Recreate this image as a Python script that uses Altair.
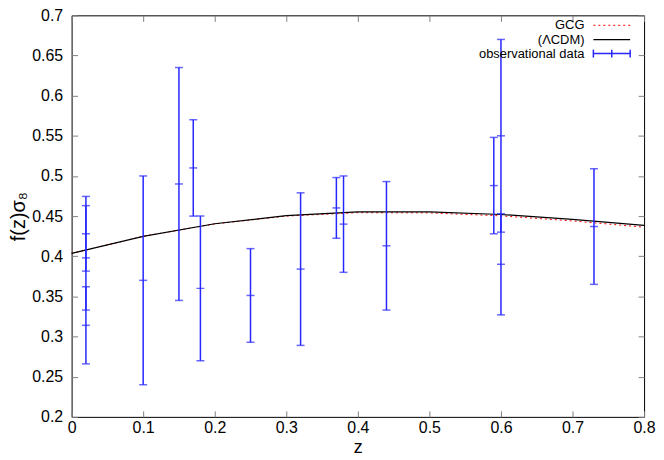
import altair as alt
import pandas as pd

# ---- data ----
z_model = [0.0, 0.1, 0.2, 0.3, 0.4, 0.5, 0.6, 0.7, 0.8]
lcdm_vals = [0.4035, 0.4248, 0.4405, 0.4505, 0.4553, 0.4553, 0.4520, 0.4460, 0.4385]
gcg_vals = [0.4035, 0.4248, 0.4403, 0.4500, 0.4543, 0.4540, 0.4503, 0.4440, 0.4362]

z_obs = [0.02, 0.02, 0.02, 0.10, 0.15, 0.17, 0.18, 0.25, 0.32, 0.37, 0.38, 0.44, 0.59, 0.60, 0.60, 0.73]
fs8_obs = [0.428, 0.398, 0.314, 0.370, 0.490, 0.510, 0.360, 0.3512, 0.384, 0.4602, 0.440, 0.413, 0.488, 0.390, 0.550, 0.437]
err_obs = [0.0465, 0.065, 0.048, 0.130, 0.145, 0.060, 0.090, 0.0583, 0.095, 0.0378, 0.060, 0.080, 0.060, 0.063, 0.120, 0.072]

x_ticks = [0, 0.1, 0.2, 0.3, 0.4, 0.5, 0.6, 0.7, 0.8]
y_ticks = [0.2, 0.25, 0.3, 0.35, 0.4, 0.45, 0.5, 0.55, 0.6, 0.65, 0.7]
legend_labels = ["GCG", "(\u039bCDM)", "observational data"]

model_df = pd.DataFrame({"z": z_model, "lcdm": lcdm_vals, "gcg": gcg_vals})
obs_df = pd.DataFrame({"z": z_obs, "fs8": fs8_obs, "err": err_obs})
obs_df["lo"] = obs_df["fs8"] - obs_df["err"]
obs_df["hi"] = obs_df["fs8"] + obs_df["err"]

# ---- layout ----
W, H = 576, 404
FONT = "Liberation Sans"
BLUE = "#2626ff"

xs = alt.Scale(domain=[0, 0.8], nice=False, zero=False)
ys = alt.Scale(domain=[0.2, 0.7], nice=False, zero=False)

main_x_axis = alt.Axis(
    orient="bottom", values=x_ticks, format="~g", ticks=False, tickSize=0,
    domain=False, grid=False, labelFont=FONT, labelFontSize=16, labelColor="black",
    labelPadding=3, labelFlush=False, labelOverlap=False,
    title="z", titleFont=FONT, titleFontSize=18, titleFontWeight="normal",
    titleColor="black", titleX=W / 2, titleY=31, titleBaseline="middle", titleAlign="center",
)
main_y_axis = alt.Axis(
    orient="left", values=y_ticks, format="~g", ticks=False, tickSize=0,
    domain=False, grid=False, labelFont=FONT, labelFontSize=16, labelColor="black",
    labelPadding=9, labelFlush=False, labelOverlap=False,
    title="f(z)\u03c3\u2088", titleFont=FONT, titleFontSize=20, titleFontWeight="normal",
    titleColor="black", titleX=-53, titleY=H / 2, titleAngle=270,
    titleBaseline="middle", titleAlign="center",
)


def tick_axis(orient, offset, values):
    return alt.Axis(
        orient=orient, offset=offset, values=values, ticks=True, tickSize=6,
        tickColor="#808080", tickWidth=1, labels=False, domain=False, grid=False, title=None,
    )


gcg_line = alt.Chart(model_df).mark_line(color="red", strokeDash=[2, 3], strokeWidth=1).encode(
    x=alt.X("z:Q", scale=xs, axis=main_x_axis),
    y=alt.Y("gcg:Q", scale=ys, axis=main_y_axis),
)
lcdm_line = alt.Chart(model_df).mark_line(color="black", strokeWidth=1.2).encode(
    x=alt.X("z:Q", scale=xs, axis=tick_axis("top", -H, x_ticks)),
    y=alt.Y("lcdm:Q", scale=ys, axis=tick_axis("right", -W, y_ticks)),
)
bars = alt.Chart(obs_df).mark_rule(color=BLUE, strokeWidth=1.5).encode(
    x=alt.X("z:Q", scale=xs, axis=tick_axis("bottom", -H, x_ticks)),
    y=alt.Y("lo:Q", scale=ys, axis=tick_axis("left", -W, y_ticks)),
    y2="hi:Q",
)
caps = alt.Chart(obs_df).transform_fold(["lo", "fs8", "hi"], as_=["kind", "v"]).mark_tick(
    orient="horizontal", size=8, thickness=1.5, color=BLUE
).encode(
    x=alt.X("z:Q", scale=xs, axis=None),
    y=alt.Y("v:Q", scale=ys, axis=None),
)

# ---- legend (gnuplot style: text right, sample on the right) ----
one = pd.DataFrame({"k": [0]})
TX, S0, S1 = 516, 525, 562
rows = [10, 24.5, 38.5]


def leg_text(label, yy):
    return alt.Chart(one).mark_text(
        align="right", baseline="middle", font=FONT, fontSize=13, color="black"
    ).encode(x=alt.value(TX), y=alt.value(yy), text=alt.value(label))


leg = [leg_text(legend_labels[i], rows[i]) for i in range(3)]
leg.append(alt.Chart(one).mark_rule(color="red", strokeDash=[2, 3], strokeWidth=1).encode(
    x=alt.value(S0), x2=alt.value(S1), y=alt.value(rows[0])))
leg.append(alt.Chart(one).mark_rule(color="black", strokeWidth=1.2).encode(
    x=alt.value(S0), x2=alt.value(S1), y=alt.value(rows[1])))
leg.append(alt.Chart(one).mark_rule(color=BLUE, strokeWidth=1.5).encode(
    x=alt.value(S0), x2=alt.value(S1), y=alt.value(rows[2])))
for xx in [S0, (S0 + S1) / 2, S1]:
    leg.append(alt.Chart(one).mark_rule(color=BLUE, strokeWidth=1.5).encode(
        x=alt.value(xx), y=alt.value(rows[2] - 4), y2=alt.value(rows[2] + 4)))

chart = alt.layer(gcg_line, lcdm_line, bars, caps, *leg).resolve_axis(
    x="independent", y="independent"
).properties(
    width=W, height=H,
    padding={"left": 64, "top": 6, "right": 12, "bottom": 40},
    autosize=alt.AutoSizeParams(type="none"),
    background="white",
).configure_view(stroke="black", strokeWidth=1)

chart.save("out.html", embed_options={"renderer": "svg", "actions": False})
